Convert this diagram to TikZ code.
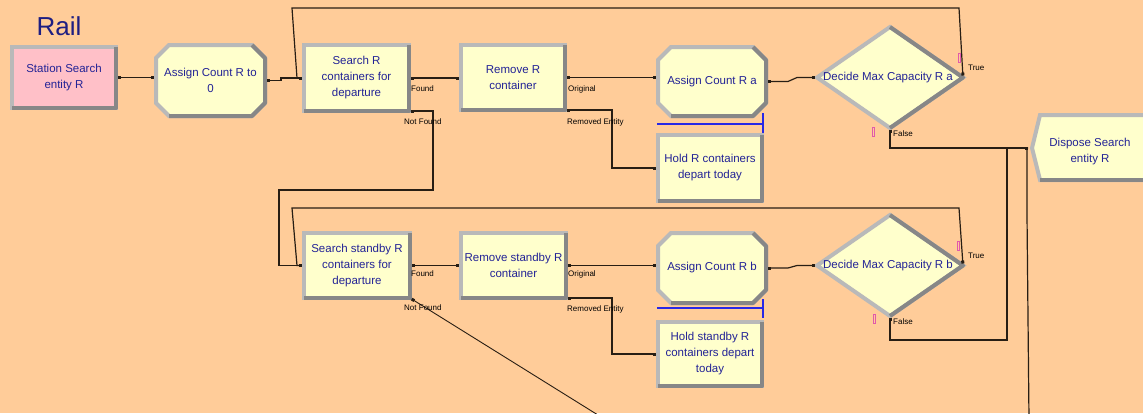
\documentclass[tikz,border=0pt]{standalone}
\usepackage{fontspec}
\setmainfont{Liberation Sans}
\usetikzlibrary{shapes.geometric,arrows.meta,calc}
\definecolor{peach}{RGB}{255,204,153}
\definecolor{pinkf}{RGB}{255,192,200}
\definecolor{yellowf}{RGB}{255,255,204}
\definecolor{bevlight}{RGB}{185,185,185}
\definecolor{bevdark}{RGB}{135,135,135}
\definecolor{txtblue}{RGB}{35,35,150}
\definecolor{titleblue}{RGB}{30,30,130}
\definecolor{qblue}{RGB}{40,40,230}
\definecolor{cntpink}{RGB}{225,90,170}
\definecolor{wire}{RGB}{40,30,20}
\newcommand\arenafont{\fontsize{11.5}{16}\selectfont}
\newcommand\portfont{\fontsize{8}{9}\selectfont}
\newcommand\rectdark[1]{\draw[dk] (#1.north east) -- (#1.south east) -- (#1.south west);}
% #1 cx, #2 cy, #3 half width, #4 half height, #5 chamfer
\newcommand\asgshape[5]{%
 \draw[dispshape] ({#1-#3+#5},{#2-#4}) -- ({#1+#3-#5},{#2-#4}) -- ({#1+#3},{#2-#4+#5}) -- ({#1+#3},{#2+#4-#5}) -- ({#1+#3-#5},{#2+#4}) -- ({#1-#3+#5},{#2+#4}) -- ({#1-#3},{#2+#4-#5}) -- ({#1-#3},{#2-#4+#5}) -- cycle;
 \draw[dk] ({#1+#3-#5},{#2-#4}) -- ({#1+#3},{#2-#4+#5}) -- ({#1+#3},{#2+#4-#5}) -- ({#1+#3-#5},{#2+#4}) -- ({#1-#3+#5},{#2+#4});}
\begin{document}
\begin{tikzpicture}[x=1pt,y=-1pt,
 box/.style={draw=bevlight, line width=4pt, fill=yellowf, outer sep=0pt, inner sep=0pt, font=\arenafont, text=txtblue, align=center},
 rectbox/.style={box, rectangle},
 asgnode/.style={rectangle, outer sep=0pt, inner sep=0pt, font=\arenafont, text=txtblue, align=center},
 decidebox/.style={box, diamond},
 dispshape/.style={draw=bevlight, line width=4pt, fill=yellowf, line join=miter},
 dtext/.style={font=\arenafont, text=txtblue, align=center, inner sep=0pt},
 dk/.style={draw=bevdark, line width=4pt, line join=round},
 conn/.style={draw=wire, line width=1.2pt, shorten <=2pt, shorten >=2pt},
 port/.style={{Square[length=3pt,width=3pt]}-{Square[length=3pt,width=3pt]}},
 portstart/.style={{Square[length=3pt,width=3pt]}-},
 portlbl/.style={font=\portfont, text=black, inner sep=0pt, anchor=west},
 queue/.style={draw=qblue, line width=1.3pt},
 counter/.style={draw=cntpink, line width=0.8pt, minimum width=2pt, minimum height=9pt, inner sep=0pt}
]
\useasboundingbox (0,0) rectangle (1143,413);
\clip (0,0) rectangle (1143,413);
\fill[peach] (0,0) rectangle (1143,413);

\node[font=\fontsize{26}{28}\selectfont, text=titleblue, inner sep=0pt] (title) at (59,26) {Rail};

% row 1
\node[rectbox, fill=pinkf, minimum width=104pt, minimum height=61pt] (st) at (64,77.5) {Station Search\\entity R};
\rectdark{st}
\asgshape{210.5}{80.5}{54.5}{35.5}{13}
\node[asgnode, minimum width=109pt, minimum height=71pt] (as0) at (210.5,80.5) {Assign Count R to\\0};
\node[rectbox, minimum width=105pt, minimum height=66pt] (sr) at (356.5,78) {Search R\\containers for\\departure};
\rectdark{sr}
\node[rectbox, minimum width=104pt, minimum height=65pt] (rr) at (513,77.5) {Remove R\\container};
\rectdark{rr}
\asgshape{712}{81.5}{54}{34.5}{13}
\node[asgnode, minimum width=108pt, minimum height=69pt] (ara) at (712,81.5) {Assign Count R a};
\node[decidebox, minimum width=146pt, minimum height=101pt] (da) at (890,77.5) {};
\draw[dk] (da.north) -- (da.east) -- (da.south);
\node[dtext] (dat) at (888,77.5) {Decide Max Capacity R a};
\node[rectbox, minimum width=104pt, minimum height=66pt] (hr) at (710,168) {Hold R containers\\depart today};
\rectdark{hr}

% dispose
\draw[dispshape] (1040,115) -- (1150,115) -- (1150,180) -- (1040,180) -- (1032,148) -- cycle;
\draw[dk] (1040,180) -- (1150,180);
\node[dtext] (disp) at (1090,152) {Dispose Search\\entity R};
\coordinate (dispin) at (1030,148);
\coordinate (offb) at (1029,420);
\coordinate (offnf) at (606,420);

% row 2
\node[rectbox, minimum width=106pt, minimum height=65pt] (ss) at (357,265.5) {Search standby R\\containers for\\departure};
\rectdark{ss}
\node[rectbox, minimum width=105pt, minimum height=65pt] (rs) at (513.5,265.5) {Remove standby R\\container};
\rectdark{rs}
\asgshape{712}{268}{54}{35}{13}
\node[asgnode, minimum width=108pt, minimum height=70pt] (arb) at (712,268) {Assign Count R b};
\node[decidebox, minimum width=146pt, minimum height=101pt] (db) at (890,265.5) {};
\draw[dk] (db.north) -- (db.east) -- (db.south);
\node[dtext] (dbt) at (888,265.5) {Decide Max Capacity R b};
\node[rectbox, minimum width=104pt, minimum height=64pt] (hs) at (710,354) {Hold standby R\\containers depart\\today};
\rectdark{hs}

% queues
\draw[queue] (657,124) -- (763,124);
\draw[queue] (763,113) -- (763,133);
\draw[queue] (657,308) -- (763,308);
\draw[queue] (763,299) -- (763,318);

% counters
\node[counter] (c1) at (959,58) {};
\node[counter] (c2) at (873,132) {};
\node[counter] (c3) at (958,246) {};
\node[counter] (c4) at (874,319) {};

% connectors row 1
\draw[conn,port] (st.east) -- (st.east -| as0.west);
\draw[conn,port] (as0.east) -- ++(16,0) |- (sr.west);
\draw[conn,port] (da.east) -- (959,8) -- (292,8) -- (297,78) -- (sr.west);
\draw[conn,port] (sr.east) -- (sr.east -| rr.west);
\draw[conn,port] (sr.south east) -- (433,111) -- (433,190) -- (279,190) |- (ss.west);
\draw[conn,port] (rr.east) -- (rr.east -| ara.west);
\draw[conn,port] (rr.south east) -- (612,110) |- (hr.west);
\draw[conn,port] (ara.east) -- ++(22,0) -- ($(da.west)+(-20,0)$) -- (da.west);
\draw[conn,port] (da.south) |- (dispin);
\draw[conn,portstart] (db.south) |- (1007,340) |- (dispin);
\draw[conn] (offb) -- (1027,215) |- (dispin);

% connectors row 2
\draw[conn,port] (ss.east) -- (ss.east -| rs.west);
\draw[conn,portstart,line width=0.9pt] (ss.south east) -- (offnf);
\draw[conn,port] (rs.east) -- (rs.east -| arb.west);
\draw[conn,port] (rs.south east) -- (612,298) |- (hs.west);
\draw[conn,port] (arb.east) -- ++(22,0) -- ($(db.west)+(-20,0)$) -- (db.west);
\draw[conn,port] (db.east) -- (959,208) -- (292,208) -- (297,265.5) -- (ss.west);

% port labels
\node[portlbl] (lf1) at (411,89) {Found};
\node[portlbl] (lnf1) at (404,122) {Not Found};
\node[portlbl] (lo1) at (568,89) {Original};
\node[portlbl] (lre1) at (567,122) {Removed Entity};
\node[portlbl] (lt1) at (968,68) {True};
\node[portlbl] (lfa1) at (893,134) {False};
\node[portlbl] (lf2) at (411,274) {Found};
\node[portlbl] (lnf2) at (404,308) {Not Found};
\node[portlbl] (lo2) at (568,274) {Original};
\node[portlbl] (lre2) at (567,309) {Removed Entity};
\node[portlbl] (lt2) at (968,256) {True};
\node[portlbl] (lfa2) at (893,322) {False};
\end{tikzpicture}
\end{document}
